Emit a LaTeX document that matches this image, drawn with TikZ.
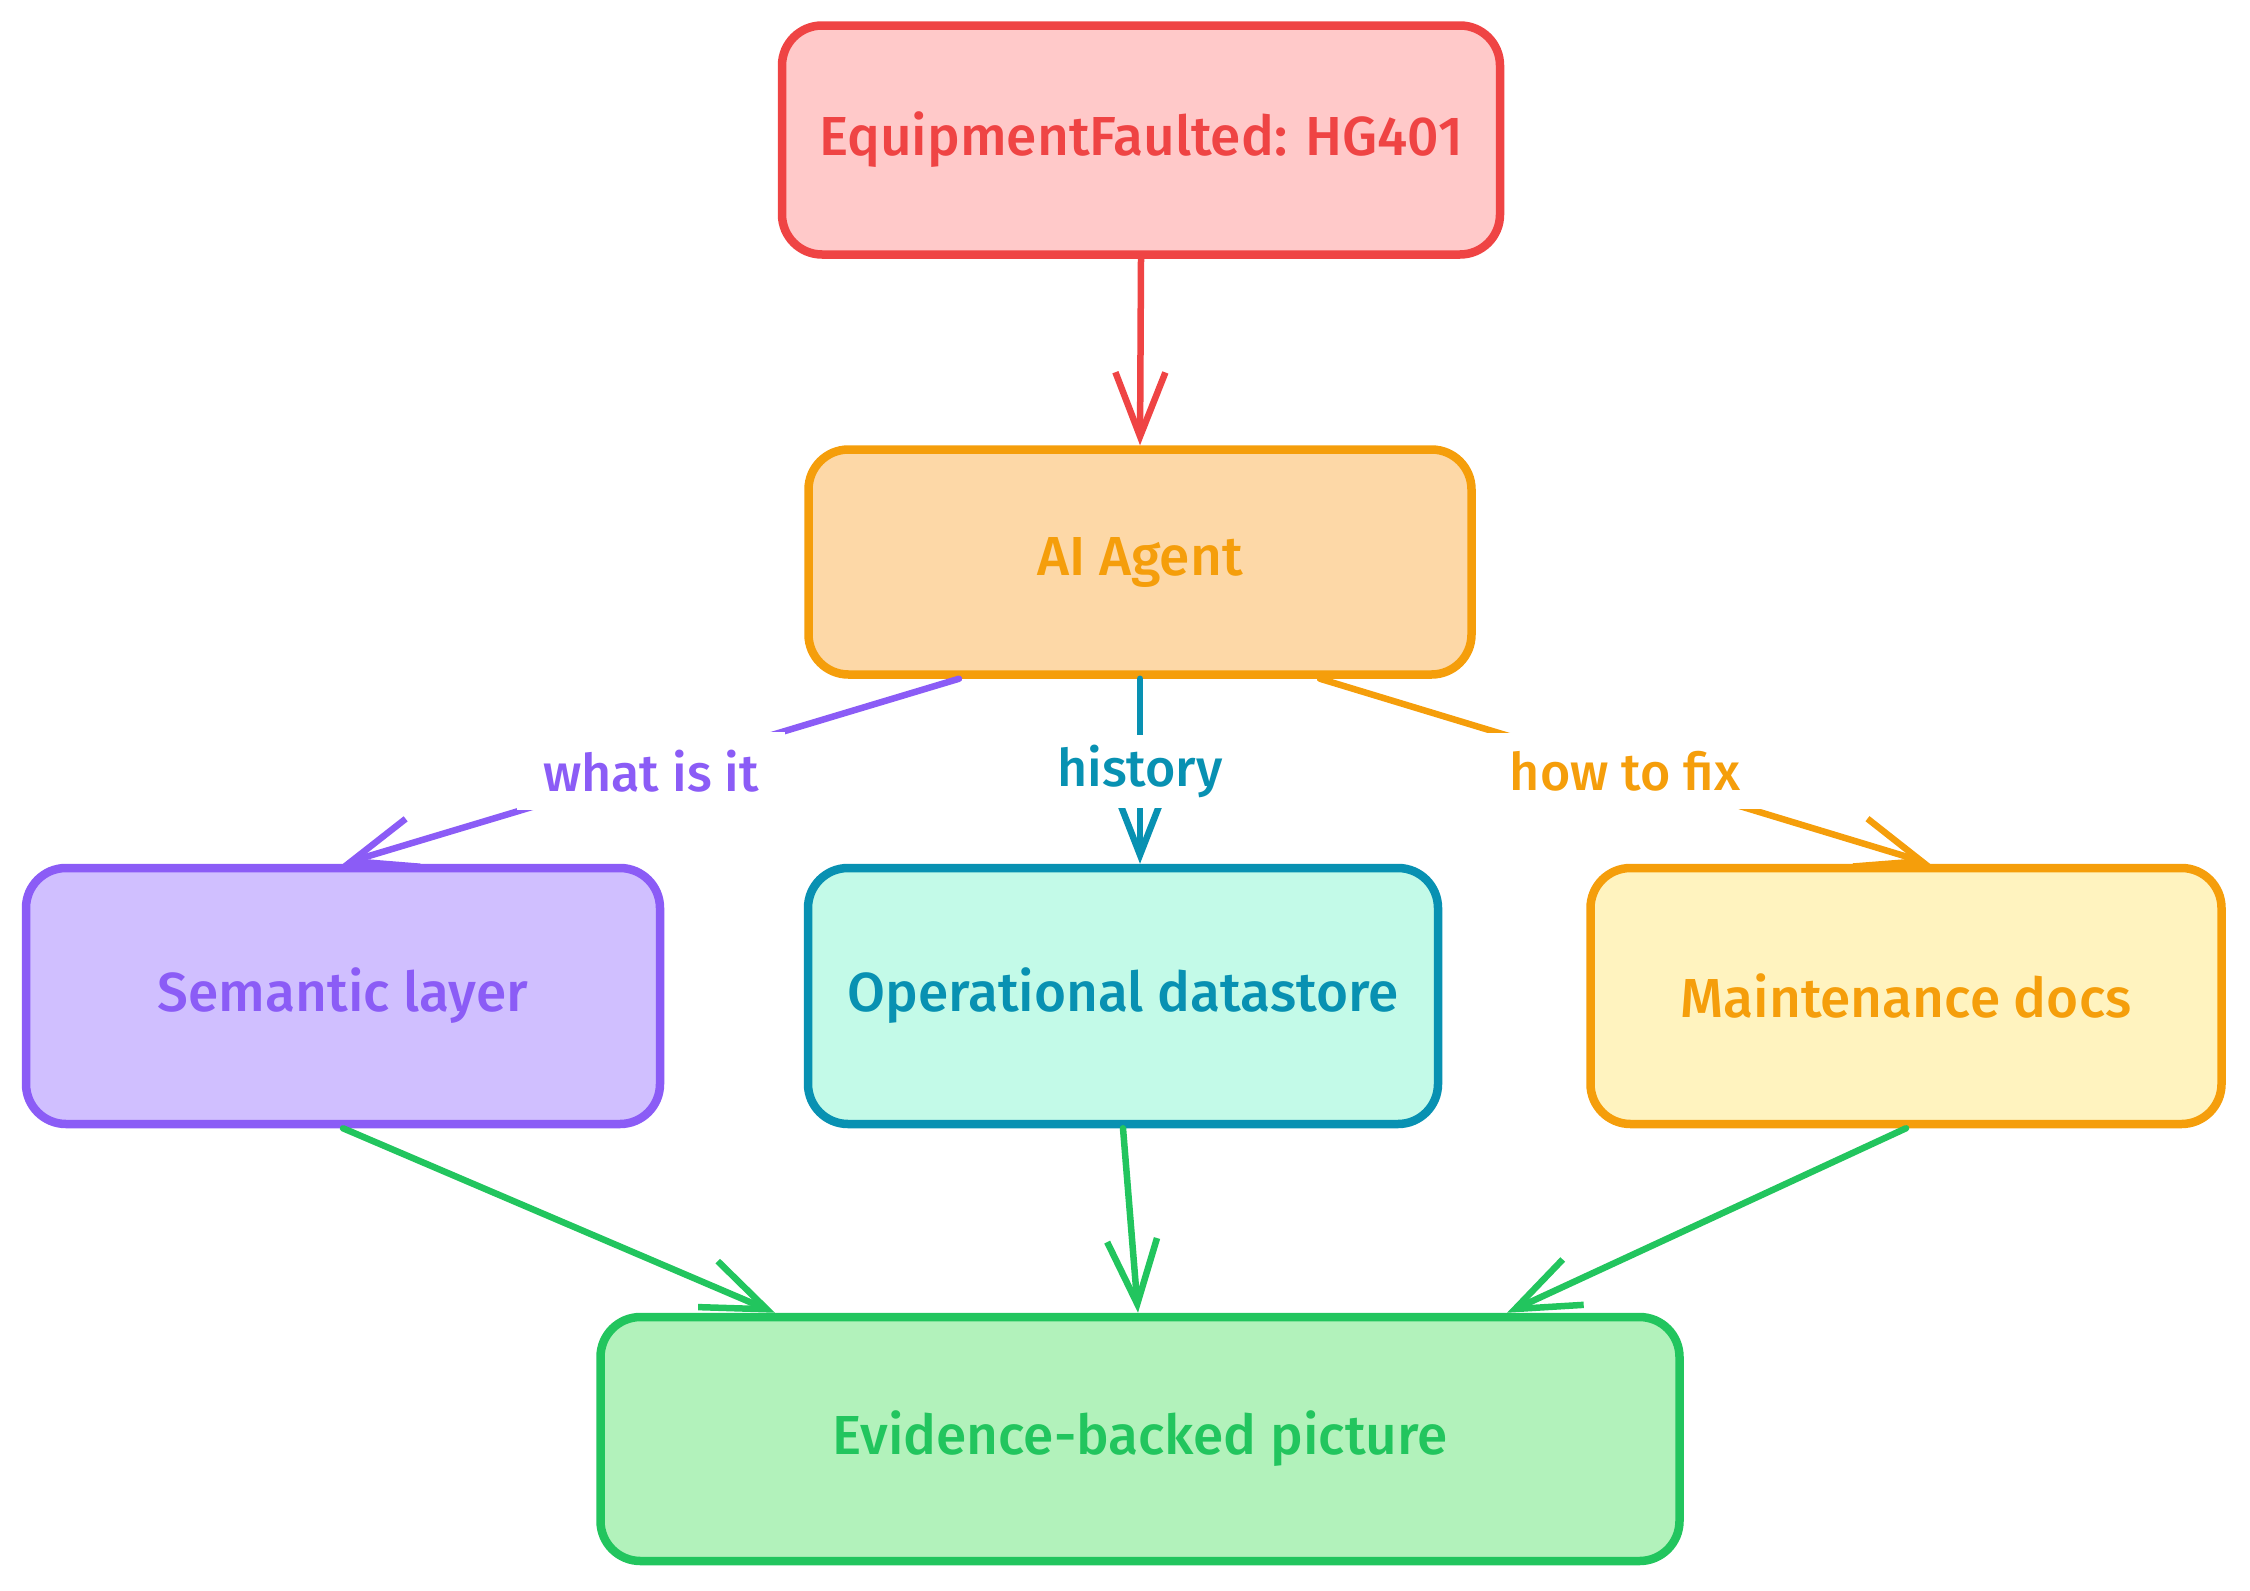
\documentclass[tikz,border=0pt]{standalone}
\usepackage{fontspec}
\setmainfont{Fira Sans}[BoldFont={Fira Sans Medium}]
\usetikzlibrary{arrows.meta,calc}
\definecolor{redS}{HTML}{EF4444}
\definecolor{redF}{HTML}{FFC9C9}
\definecolor{ambS}{HTML}{F59E0B}
\definecolor{ambF}{HTML}{FDD8A7}
\definecolor{vioS}{HTML}{8B5CF6}
\definecolor{vioF}{HTML}{D0BFFF}
\definecolor{cyaS}{HTML}{0891B2}
\definecolor{cyaF}{HTML}{C3FAE8}
\definecolor{yelF}{HTML}{FFF3BF}
\definecolor{grnS}{HTML}{22C55E}
\definecolor{grnF}{HTML}{B2F2BB}
\begin{document}
\begin{tikzpicture}[x=1pt,y=-1pt,
  box/.style={draw, line width=8.5pt, rounded corners=40pt, inner sep=0pt,
    font=\fontsize{55}{66}\selectfont\bfseries},
  conn/.style={line width=6.5pt, line cap=round, line join=round,
    -{Straight Barb[length=64pt,width=50pt]}},
  lbl/.style={fill=white, inner xsep=26pt, inner ysep=18pt,
    font=\fontsize{52}{62}\selectfont\bfseries}]
\useasboundingbox (0,0) rectangle (2250,1590);

\node[box, draw=redS, fill=redF, text=redS, minimum width=718pt, minimum height=229pt] (ev) at (1141,140) {EquipmentFaulted: HG401};
\node[box, draw=ambS, fill=ambF, text=ambS, minimum width=663pt, minimum height=225pt] (ai) at (1140,562) {AI Agent};
\node[box, draw=vioS, fill=vioF, text=vioS, minimum width=634pt, minimum height=256pt] (sem) at (343,996) {Semantic layer};
\node[box, draw=cyaS, fill=cyaF, text=cyaS, minimum width=630pt, minimum height=256pt] (ops) at (1123,996) {Operational datastore};
\node[box, draw=ambS, fill=yelF, text=ambS, minimum width=631pt, minimum height=256pt] (mnt) at (1906,996) {Maintenance docs};
\node[box, draw=grnS, fill=grnF, text=grnS, minimum width=1079pt, minimum height=244pt] (evd) at (1140,1439) {Evidence-backed picture};

\draw[conn, redS] (ev.south) -- (ai.north);
\draw[conn, vioS] ([xshift=-181pt]ai.south) -- node[lbl, text=vioS] {what is it} (sem.north);
\draw[conn, cyaS] (ai.south) -- node[lbl, text=cyaS, inner ysep=10pt] {history} (ai.south |- ops.north);
\draw[conn, ambS] ([xshift=180pt]ai.south) -- node[lbl, text=ambS] {how to fix} ([xshift=24pt]mnt.north);
\draw[conn, grnS] (sem.south) -- ([xshift=-365pt]evd.north);
\draw[conn, grnS] (ops.south) -- ([xshift=-2pt]evd.north);
\draw[conn, grnS] (mnt.south) -- ([xshift=367pt]evd.north);
\end{tikzpicture}
\end{document}
